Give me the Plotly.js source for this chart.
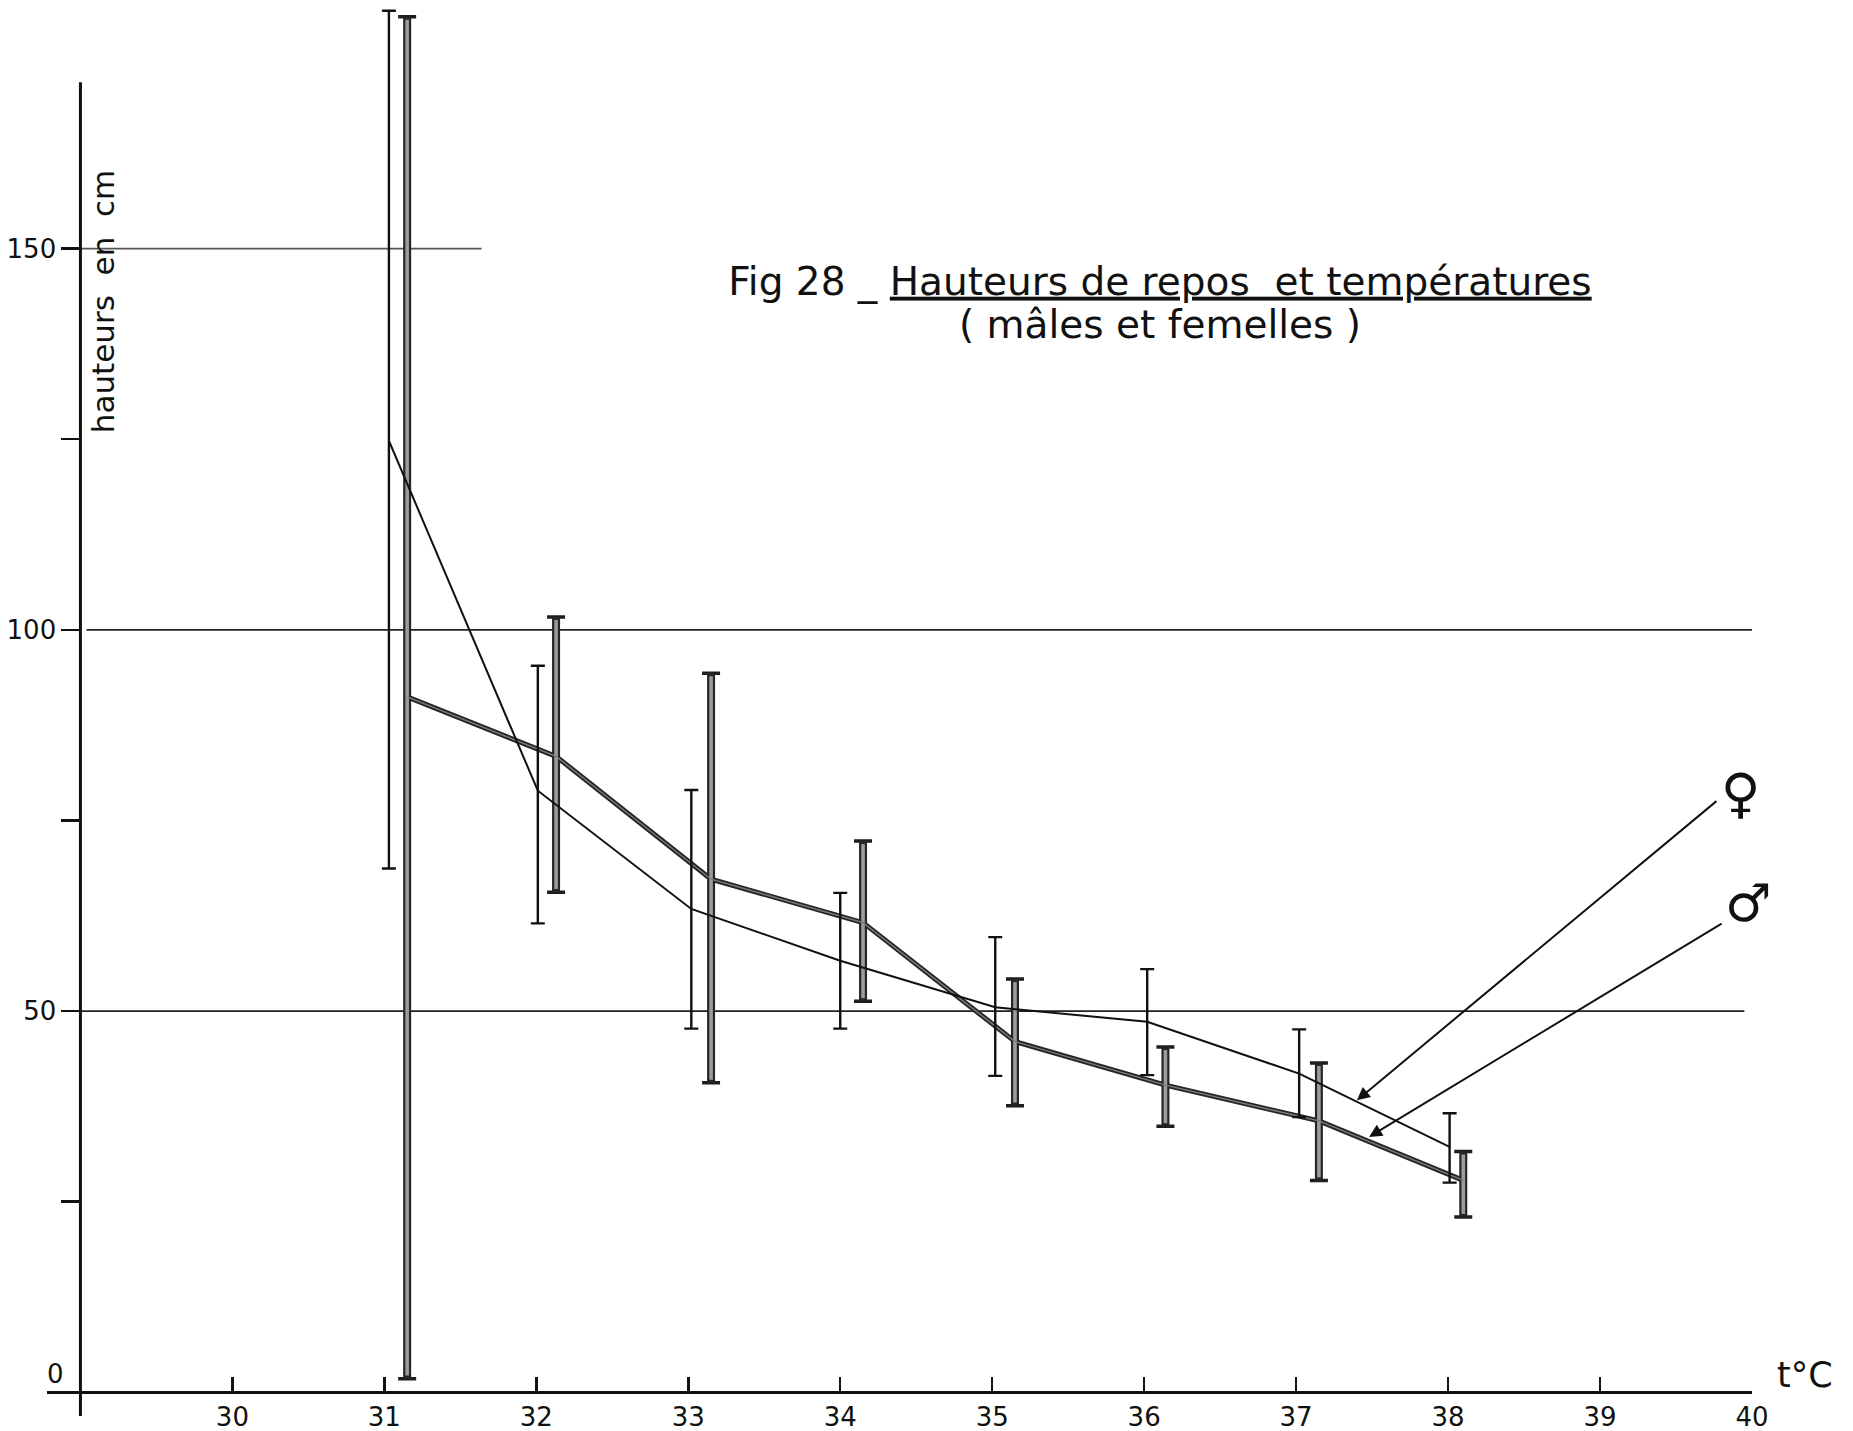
<!DOCTYPE html>
<html>
<head>
<meta charset="utf-8">
<script src="https://cdn.plot.ly/plotly-3.0.1.min.js"></script>
<style>
  html, body { margin: 0; padding: 0; background: #ffffff; }
  #chart { width: 1853px; height: 1431px; }
</style>
</head>
<body>
<div id="chart"></div>
<script>
// ---- data ----
// females (thin line, thin bars)
const femaleT    = [31.03, 32.01, 33.02, 34.00, 35.02, 36.02, 37.02, 38.01];
const femaleMean = [124.8, 78.9, 63.4, 56.6, 50.5, 48.6, 41.8, 32.2];
const femaleHigh = [181.2, 95.3, 79.0, 65.5, 59.7, 55.5, 47.6, 36.6];
const femaleLow  = [68.7, 61.5, 47.7, 47.7, 41.5, 41.6, 36.1, 27.5];

// males (thick grey line, thick bars)
const maleT    = [31.15, 32.13, 33.15, 34.15, 35.15, 36.14, 37.15, 38.10];
const maleMean = [91.2, 83.4, 67.3, 61.6, 46.0, 40.3, 35.6, 27.8];
const maleHigh = [180.4, 101.7, 94.3, 72.3, 54.2, 45.3, 43.2, 31.6];
const maleLow  = [1.8, 65.6, 40.6, 51.3, 37.6, 34.9, 27.8, 23.0];

// axes
const xTickVals = [30, 31, 32, 33, 34, 35, 36, 37, 38, 39, 40];
const xTickText = ['30', '31', '32', '33', '34', '35', '36', '37', '38', '39', '40'];
const yTickVals = [0, 25, 50, 75, 100, 125, 150];
const yTickText = ['', '', '50', '', '100', '', '150'];
const yAxisTop = 171.8;

// horizontal reference lines
const gridLevels = [50, 100, 150];
const gridStart  = [29.0, 29.04, 29.0];
const gridEnd    = [39.95, 40.0, 31.64];

// text
const titleLine1 = 'Fig 28 _ <u>Hauteurs de repos  et températures</u>';
const titleLine2 = '( mâles et femelles )';
const yTitle = 'hauteurs  en  cm';
const xTitle = 't°C';

// ---- build ----
const up   = (hi, m) => hi.map((h, i) => h - m[i]);
const down = (lo, m) => lo.map((l, i) => m[i] - l);

const FONT = 'DejaVu Sans, Liberation Sans, sans-serif';
const xRange = [28.78, 40.0];
const yRange = [-3.1, 182.6];

const traces = [
  // males: caps
  {
    x: maleT, y: maleMean, type: 'scatter', mode: 'lines',
    line: { color: 'rgba(0,0,0,0)', width: 0 },
    error_y: { type: 'data', symmetric: false,
      array: up(maleHigh, maleMean), arrayminus: down(maleLow, maleMean),
      color: '#1e1e1e', thickness: 3.5, width: 9 },
    cliponaxis: false, hoverinfo: 'skip', showlegend: false
  },
  // males: dark outline stems + thick line
  {
    x: maleT, y: maleMean, type: 'scatter', mode: 'lines',
    line: { color: '#262626', width: 5 },
    error_y: { type: 'data', symmetric: false,
      array: up(maleHigh, maleMean), arrayminus: down(maleLow, maleMean),
      color: '#262626', thickness: 8, width: 0 },
    cliponaxis: false, hoverinfo: 'skip', showlegend: false
  },
  // males: lighter interior
  {
    x: maleT, y: maleMean, type: 'scatter', mode: 'lines',
    line: { color: '#7c7c7c', width: 1.4 },
    error_y: { type: 'data', symmetric: false,
      array: up(maleHigh, maleMean).map(v => Math.max(v - 0.4, 0)),
      arrayminus: down(maleLow, maleMean).map(v => Math.max(v - 0.4, 0)),
      color: '#9c9c9c', thickness: 3.6, width: 0 },
    cliponaxis: false, hoverinfo: 'skip', showlegend: false
  },
  // females: thin
  {
    x: femaleT, y: femaleMean, type: 'scatter', mode: 'lines',
    line: { color: '#111111', width: 2 },
    error_y: { type: 'data', symmetric: false,
      array: up(femaleHigh, femaleMean), arrayminus: down(femaleLow, femaleMean),
      color: '#111111', thickness: 2.4, width: 7 },
    cliponaxis: false, hoverinfo: 'skip', showlegend: false
  }
];

const shapes = gridLevels.map((lv, i) => ({
  type: 'line', xref: 'x', yref: 'y',
  x0: gridStart[i], x1: gridEnd[i], y0: lv, y1: lv,
  line: { color: i === 2 ? '#555555' : '#222222', width: 1.6 },
  layer: 'below'
}));
// the vertical axis line, which stops below the top of the drawing area
shapes.push({
  type: 'line', xref: 'x', yref: 'y',
  x0: 29, x1: 29, y0: yRange[0], y1: yAxisTop,
  line: { color: '#111111', width: 3 }, layer: 'above'
});

const annotations = [
  // second title line
  { xref: 'paper', yref: 'paper', x: 0.6528, y: 0.7705, text: titleLine2,
    showarrow: false, xanchor: 'center', yanchor: 'middle',
    font: { family: FONT, size: 39, color: '#111' } },
  // y label "0" sitting just above the axis extension
  { xref: 'x', yref: 'y', x: 29, y: 0, text: '0', showarrow: false,
    xanchor: 'right', yanchor: 'bottom', xshift: -14, yshift: 1,
    font: { family: FONT, size: 26, color: '#111' } },
  // y title, inside the plot
  { xref: 'x', yref: 'y', x: 29.15, y: 143.0, text: yTitle, showarrow: false,
    textangle: -90, font: { family: FONT, size: 31, color: '#111' } },
  // x title (outside the x range, so placed in paper units)
  { xref: 'paper', yref: 'y', x: 1.031, y: 2.3, text: xTitle, showarrow: false,
    xanchor: 'center', yanchor: 'middle',
    font: { family: FONT, size: 35, color: '#111' } },
  // sex symbols
  { xref: 'x', yref: 'y', x: 39.93, y: 78.5, text: '\u2640', showarrow: false,
    xanchor: 'center', yanchor: 'middle',
    font: { family: FONT, size: 54, color: '#111' } },
  { xref: 'x', yref: 'y', x: 39.98, y: 64.2, text: '\u2642', showarrow: false,
    xanchor: 'center', yanchor: 'middle',
    font: { family: FONT, size: 52, color: '#111' } },
  // arrows
  { xref: 'x', yref: 'y', axref: 'x', ayref: 'y',
    x: 37.40, y: 38.3, ax: 39.776, ay: 77.7, text: '', showarrow: true,
    arrowhead: 2, arrowsize: 1.3, arrowwidth: 2, arrowcolor: '#111', standoff: 0 },
  { xref: 'x', yref: 'y', axref: 'x', ayref: 'y',
    x: 37.48, y: 33.5, ax: 39.81, ay: 61.6, text: '', showarrow: true,
    arrowhead: 2, arrowsize: 1.3, arrowwidth: 2, arrowcolor: '#111', standoff: 0 }
];

const layout = {
  width: 1853, height: 1431,
  margin: { l: 47, r: 101, t: 0, b: 15, pad: 0 },
  paper_bgcolor: '#ffffff', plot_bgcolor: '#ffffff',
  showlegend: false,
  hovermode: false,
  font: { family: FONT, color: '#111' },
  title: {
    text: titleLine1,
    xref: 'container', yref: 'container',
    x: 0.626, xanchor: 'center', y: 0.8036, yanchor: 'middle',
    font: { family: FONT, size: 39, color: '#111' }
  },
  xaxis: {
    range: xRange, anchor: 'free',
    position: (0 - yRange[0]) / (yRange[1] - yRange[0]),
    showline: true, linecolor: '#111', linewidth: 3,
    ticks: 'inside', ticklen: 14, tickwidth: 2.5, tickcolor: '#111',
    tickmode: 'array', tickvals: xTickVals, ticktext: xTickText,
    tickfont: { family: FONT, size: 26, color: '#111' },
    showgrid: false, zeroline: false, fixedrange: true
  },
  yaxis: {
    range: yRange, anchor: 'free',
    position: (29 - xRange[0]) / (xRange[1] - xRange[0]),
    showline: false,
    ticks: 'outside', ticklen: 19, tickwidth: 2.5, tickcolor: '#111',
    tickmode: 'array', tickvals: yTickVals, ticktext: yTickText,
    tickfont: { family: FONT, size: 26, color: '#111' },
    showgrid: false, zeroline: false, fixedrange: true
  },
  shapes: shapes,
  annotations: annotations
};

Plotly.newPlot('chart', traces, layout, { staticPlot: true, displayModeBar: false });
</script>
</body>
</html>
